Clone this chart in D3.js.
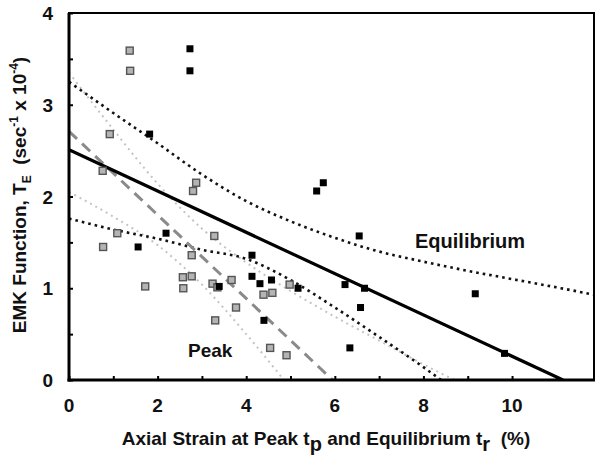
<!DOCTYPE html>
<html>
<head>
<meta charset="utf-8">
<script src="https://cdn.jsdelivr.net/npm/d3@7"></script>
<style>
  html, body { margin: 0; padding: 0; background: #fff; }
  svg { display: block; font-family: "Liberation Sans", Arial, sans-serif; }
</style>
</head>
<body>
<svg id="chart" width="600" height="460"></svg>
<script>
// ---- Data ----
const xTicks = [0, 2, 4, 6, 8, 10];
const yTicks = [0, 1, 2, 3, 4];

// Peak (grey squares)
const peakX = [1.37, 1.38, 0.92, 0.76, 2.87, 2.80, 1.09, 0.77, 1.72, 2.57, 2.77, 2.58, 2.77, 3.28, 3.24, 3.35, 3.67, 3.77, 3.30, 4.39, 4.59, 4.98, 4.54, 4.91];
const peakY = [3.59, 3.37, 2.68, 2.28, 2.15, 2.06, 1.60, 1.45, 1.02, 1.12, 1.13, 1.00, 1.36, 1.57, 1.05, 1.01, 1.09, 0.79, 0.65, 0.93, 0.95, 1.04, 0.35, 0.27];

// Equilibrium (black squares)
const eqX = [2.73, 2.73, 1.82, 5.74, 5.59, 6.55, 2.19, 1.56, 4.13, 4.13, 4.31, 4.57, 3.39, 5.17, 4.40, 6.23, 6.67, 6.58, 6.34, 9.17, 9.83];
const eqY = [3.61, 3.37, 2.68, 2.15, 2.06, 1.57, 1.60, 1.45, 1.36, 1.13, 1.05, 1.09, 1.02, 1.00, 0.65, 1.04, 1.00, 0.79, 0.35, 0.94, 0.29];

// Regression lines
const eqFitX = [0, 11.15];
const eqFitY = [2.51, 0];
const peakFitX = [0, 5.95];
const peakFitY = [2.71, 0];

// Confidence bands
const eqUpperX = [0, 1, 2, 3, 4, 5, 6, 7, 8, 9, 10, 11, 11.85];
const eqUpperY = [3.25, 2.91, 2.58, 2.24, 1.95, 1.73, 1.55, 1.40, 1.29, 1.19, 1.10, 1.01, 0.93];
const eqLowerX = [0, 1, 2, 3, 4, 5, 6, 7, 8, 8.4];
const eqLowerY = [1.76, 1.64, 1.54, 1.42, 1.32, 1.09, 0.79, 0.47, 0.14, 0];
const peakUpperX = [0, 1, 2, 3, 4, 5, 6, 7, 8, 8.7];
const peakUpperY = [3.35, 2.73, 2.14, 1.65, 1.28, 0.97, 0.69, 0.43, 0.17, 0];
const peakLowerX = [0, 1, 2, 3, 4, 4.85];
const peakLowerY = [2.05, 1.78, 1.47, 1.04, 0.50, 0];

// ---- Layout ----
const svg = d3.select("#chart");
const L = 69, R = 594, T = 13, B = 380;
const x = d3.scaleLinear().domain([0, 11.85]).range([L, R]);
const y = d3.scaleLinear().domain([0, 4]).range([B, T]);

const zip = (xs, ys) => xs.map((v, i) => [v, ys[i]]);
const line = d3.line().x(d => x(d[0])).y(d => y(d[1]));
const curve = d3.line().x(d => x(d[0])).y(d => y(d[1])).curve(d3.curveMonotoneX);

const plot = svg.append("g");
plot.append("defs").append("clipPath").attr("id", "clip")
  .append("rect").attr("x", L).attr("y", T).attr("width", R - L).attr("height", B - T);
const g = plot.append("g").attr("clip-path", "url(#clip)");

// Confidence bands
g.append("path").datum(zip(peakUpperX, peakUpperY)).attr("d", curve)
  .attr("fill", "none").attr("stroke", "#c4c4c4").attr("stroke-width", 2).attr("stroke-dasharray", "2,4");
g.append("path").datum(zip(peakLowerX, peakLowerY)).attr("d", curve)
  .attr("fill", "none").attr("stroke", "#c4c4c4").attr("stroke-width", 2).attr("stroke-dasharray", "2,4");
g.append("path").datum(zip(eqUpperX, eqUpperY)).attr("d", curve)
  .attr("fill", "none").attr("stroke", "#111").attr("stroke-width", 2.6).attr("stroke-dasharray", "2.6,4");
g.append("path").datum(zip(eqLowerX, eqLowerY)).attr("d", curve)
  .attr("fill", "none").attr("stroke", "#111").attr("stroke-width", 2.6).attr("stroke-dasharray", "2.6,4");

// Regression lines
g.append("path").datum(zip(peakFitX, peakFitY)).attr("d", line)
  .attr("fill", "none").attr("stroke", "#8a8a8a").attr("stroke-width", 3).attr("stroke-dasharray", "11,7");
g.append("path").datum(zip(eqFitX, eqFitY)).attr("d", line)
  .attr("fill", "none").attr("stroke", "#000").attr("stroke-width", 3.2);

// Markers
const ms = 7;
g.selectAll("rect.peak").data(zip(peakX, peakY)).join("rect")
  .attr("class", "peak")
  .attr("x", d => x(d[0]) - ms / 2).attr("y", d => y(d[1]) - ms / 2)
  .attr("width", ms).attr("height", ms)
  .attr("fill", "#b4b4b4").attr("stroke", "#555").attr("stroke-width", 1.4);
g.selectAll("rect.eq").data(zip(eqX, eqY)).join("rect")
  .attr("class", "eq")
  .attr("x", d => x(d[0]) - ms / 2).attr("y", d => y(d[1]) - ms / 2)
  .attr("width", ms).attr("height", ms)
  .attr("fill", "#000");

// Frame
svg.append("rect").attr("x", L).attr("y", T).attr("width", R - L).attr("height", B - T)
  .attr("fill", "none").attr("stroke", "#000").attr("stroke-width", 2);
svg.append("line").attr("x1", L).attr("x2", L).attr("y1", T).attr("y2", B + 1.5)
  .attr("stroke", "#000").attr("stroke-width", 3);
svg.append("line").attr("x1", L - 1.5).attr("x2", R + 1).attr("y1", B).attr("y2", B)
  .attr("stroke", "#000").attr("stroke-width", 3);

// Axes (inward ticks)
const xAxis = d3.axisBottom(x).tickValues(d3.range(0, 12, 1)).tickSize(-4).tickFormat("");
svg.append("g").attr("transform", `translate(0,${B})`).call(xAxis)
  .call(a => a.select(".domain").remove())
  .selectAll("line").attr("stroke-width", 2);
const yAxis = d3.axisLeft(y).tickValues(d3.range(0, 4.01, 0.5)).tickSize(-4).tickFormat("");
svg.append("g").attr("transform", `translate(${L},0)`).call(yAxis)
  .call(a => a.select(".domain").remove())
  .selectAll("line").attr("stroke-width", 2);

// Tick labels
svg.append("g").selectAll("text").data(xTicks).join("text")
  .attr("x", d => x(d)).attr("y", 412)
  .attr("text-anchor", "middle").attr("font-size", 19).attr("font-weight", "bold")
  .attr("fill", "#111").text(d => d);
svg.append("g").selectAll("text").data(yTicks).join("text")
  .attr("x", 53).attr("y", d => y(d) + 7)
  .attr("text-anchor", "end").attr("font-size", 19).attr("font-weight", "bold")
  .attr("fill", "#111").text(d => d);

// Axis titles
const xt = svg.append("text").attr("x", 326).attr("y", 445)
  .attr("text-anchor", "middle").attr("font-size", 19).attr("font-weight", "bold").attr("fill", "#111");
xt.append("tspan").text("Axial Strain at Peak t");
xt.append("tspan").attr("dy", 6).attr("font-size", 20).text("p");
xt.append("tspan").attr("dy", -6).text(" and Equilibrium t");
xt.append("tspan").attr("dy", 6).attr("font-size", 20).text("r");
xt.append("tspan").attr("dy", -6).text("\u00a0\u00a0(%)");

const yt = svg.append("text").attr("transform", "translate(26,195) rotate(-90)")
  .attr("text-anchor", "middle").attr("font-size", 19).attr("font-weight", "bold").attr("fill", "#111");
yt.append("tspan").text("EMK Function, T");
yt.append("tspan").attr("dy", 5).attr("font-size", 12).text("E");
yt.append("tspan").attr("dy", -5).text("\u00a0\u00a0(sec");
yt.append("tspan").attr("dy", -8).attr("font-size", 12).text("-1");
yt.append("tspan").attr("dy", 8).text(" x 10");
yt.append("tspan").attr("dy", -8).attr("font-size", 12).text("-4");
yt.append("tspan").attr("dy", 8).text(")");

// Annotations
svg.append("text").attr("x", 415).attr("y", 248).attr("font-size", 20).attr("font-weight", "bold")
  .attr("fill", "#111").text("Equilibrium");
svg.append("text").attr("x", 188).attr("y", 357).attr("font-size", 19).attr("font-weight", "bold")
  .attr("fill", "#111").text("Peak");
</script>
</body>
</html>
